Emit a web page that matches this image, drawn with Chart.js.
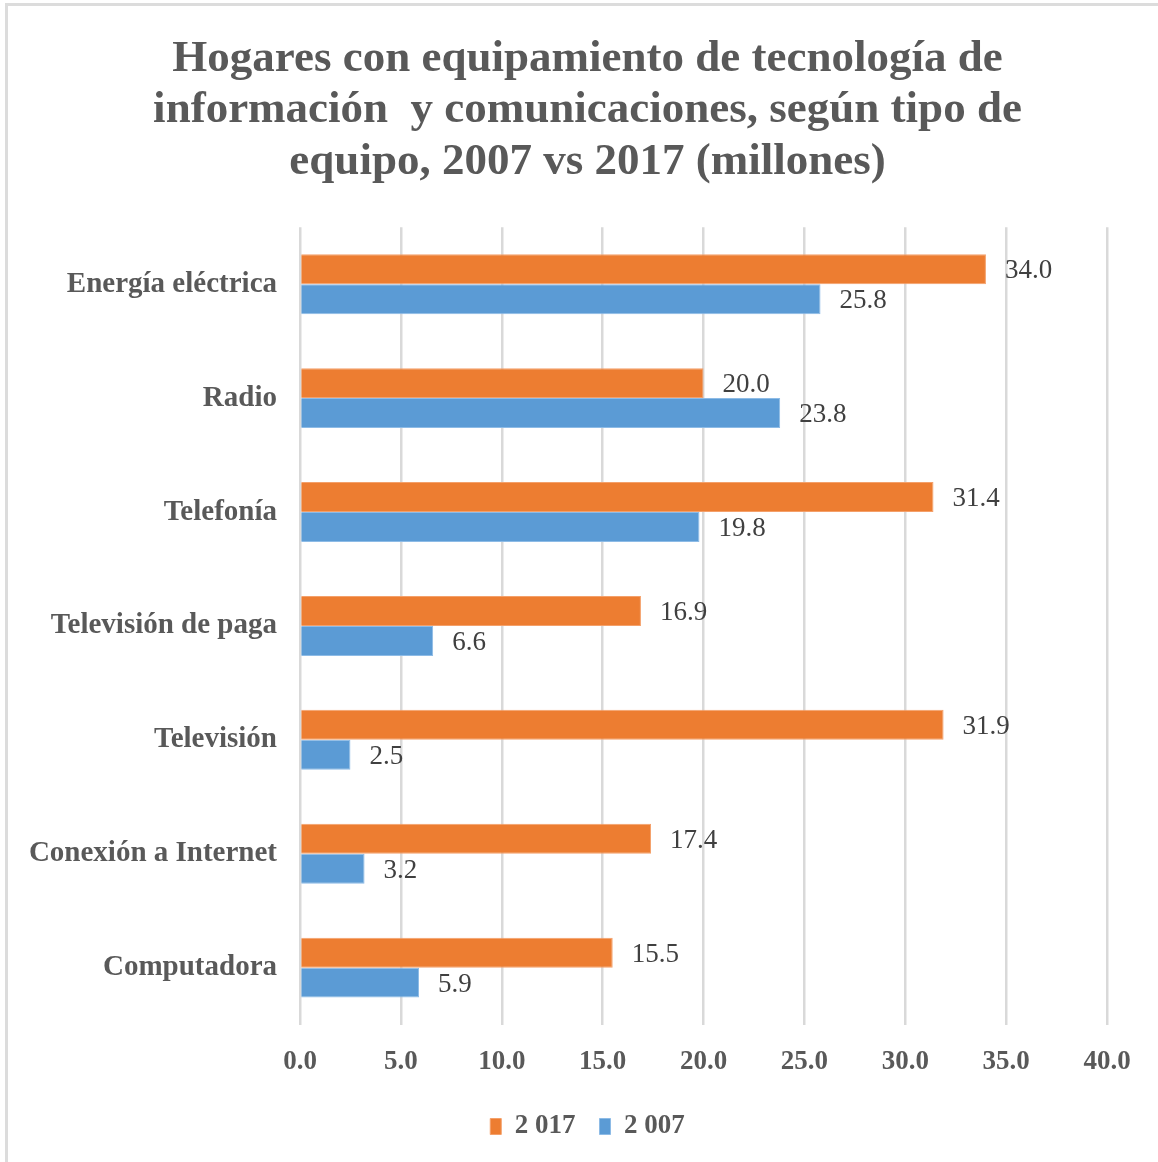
<!DOCTYPE html>
<html lang="es">
<head>
<meta charset="utf-8">
<title>Hogares con equipamiento TIC</title>
<script src="https://cdn.jsdelivr.net/npm/chart.js@4.4.1/dist/chart.umd.min.js"></script>
<style>
    html, body { margin: 0; padding: 0; background: #ffffff; }
    #wrap { position: relative; width: 1158px; height: 1162px; overflow: hidden; }
    #frame {
        position: absolute; left: 5px; top: 3px; right: -10px; bottom: -10px;
        border-top: 3px solid #dcdcdc; border-left: 3px solid #dcdcdc;
        pointer-events: none;
    }
    canvas { position: absolute; left: 0; top: 0; }
</style>
</head>
<body>
<div id="wrap">
    <canvas id="ticChart" width="1158" height="1162"></canvas>
    <div id="frame"></div>
</div>
<script>
// Categories (top to bottom) and values in millions of households
const categories = [
    'Energía eléctrica',
    'Radio',
    'Telefonía',
    'Televisión de paga',
    'Televisión',
    'Conexión a Internet',
    'Computadora'
];
const values2017 = [34.0, 20.0, 31.4, 16.9, 31.9, 17.4, 15.5];
const values2007 = [25.8, 23.8, 19.8, 6.6, 2.5, 3.2, 5.9];
const seriesLabels = ['2 017', '2 007'];
const xTicks = [0, 5, 10, 15, 20, 25, 30, 35, 40];

const SERIF = "'Liberation Serif', 'Times New Roman', serif";
const GREY = '#595959';

// Draws the value next to the end of every bar
const barValueLabels = {
    id: 'barValueLabels',
    afterDatasetsDraw(chart) {
        const ctx = chart.ctx;
        ctx.save();
        ctx.font = `27px ${SERIF}`;
        ctx.fillStyle = '#404040';
        ctx.textAlign = 'left';
        ctx.textBaseline = 'middle';
        chart.data.datasets.forEach((ds, i) => {
            const meta = chart.getDatasetMeta(i);
            meta.data.forEach((bar, j) => {
                ctx.fillText(ds.data[j].toFixed(1), bar.x + 19, bar.y + 2);
            });
        });
        ctx.restore();
    }
};

// The original centres title and legend a bit right of the plot centre
const nudgeBoxes = {
    id: 'nudgeBoxes',
    afterLayout(chart) {
        const t = chart.titleBlock;
        if (t) { t.left += 34; t.right += 34; }
        const l = chart.legend;
        if (l) { l.left += 34; l.right += 34; l.top -= 10; l.bottom -= 10; }
    }
};

const ctx = document.getElementById('ticChart').getContext('2d');
new Chart(ctx, {
    type: 'bar',
    data: {
        labels: categories,
        datasets: [
            {
                label: seriesLabels[0],
                data: values2017,
                backgroundColor: '#ED7D31',
                borderColor: '#F4A06A',
                borderWidth: 1,
                categoryPercentage: 0.526,
                barPercentage: 1.0
            },
            {
                label: seriesLabels[1],
                data: values2007,
                backgroundColor: '#5B9BD5',
                borderColor: '#8DBBE6',
                borderWidth: 1,
                categoryPercentage: 0.526,
                barPercentage: 1.0
            }
        ]
    },
    options: {
        indexAxis: 'y',
        responsive: false,
        animation: false,
        layout: {
            padding: { top: 33, left: 0, right: 51, bottom: 2 }
        },
        plugins: {
            title: {
                display: true,
                text: [
                    'Hogares con equipamiento de tecnología de',
                    'información  y comunicaciones, según tipo de',
                    'equipo, 2007 vs 2017 (millones)'
                ],
                color: GREY,
                font: { family: SERIF, size: 45, weight: 'bold', lineHeight: 1.15 },
                padding: { top: 0, bottom: 39 }
            },
            legend: {
                position: 'bottom',
                labels: {
                    color: GREY,
                    font: { family: SERIF, size: 27, weight: 'bold' },
                    boxWidth: 11,
                    boxHeight: 16,
                    padding: 24
                }
            },
            tooltip: { enabled: false }
        },
        scales: {
            x: {
                min: 0,
                max: 40,
                afterBuildTicks(scale) {
                    scale.ticks = xTicks.map(v => ({ value: v }));
                },
                ticks: {
                    color: GREY,
                    font: { family: SERIF, size: 27, weight: 'bold' },
                    padding: 21,
                    callback: v => Number(v).toFixed(1)
                },
                grid: {
                    color: '#d9d9d9',
                    lineWidth: 2.5,
                    drawTicks: false
                },
                border: { display: false }
            },
            y: {
                ticks: {
                    color: GREY,
                    font: { family: SERIF, size: 29, weight: 'bold' },
                    padding: 23
                },
                grid: { display: false, drawTicks: false },
                border: { display: false },
                afterFit(scale) {
                    scale.width = 300;
                }
            }
        }
    },
    plugins: [barValueLabels, nudgeBoxes]
});
</script>
</body>
</html>
